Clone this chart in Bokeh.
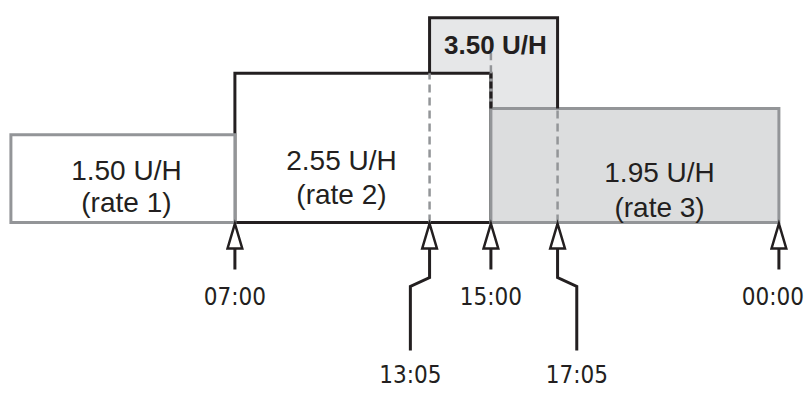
from bokeh.plotting import figure
from bokeh.models import Range1d
from bokeh.core.properties import value
from bokeh.embed import file_html
from bokeh.resources import INLINE

# ---- data ----
rate_start = [0.0, 7.0, 15.0]          # hours
rate_end = [7.0, 15.0, 24.0]
rate_values = [1.50, 2.55, 1.95]       # U/H
rate_names = ["rate 1", "rate 2", "rate 3"]
temp_label_start = "13:05"
temp_label_end = "17:05"
temp_value = 3.50
tick_labels = ["07:00", "13:05", "15:00", "17:05", "00:00"]


def hours(lbl, end_of_day=False):
    h, m = lbl.split(":")
    v = int(h) + int(m) / 60.0
    if end_of_day and v == 0:
        v = 24.0
    return v


temp_start = hours(temp_label_start)
temp_end = hours(temp_label_end)
tick_times = [hours(t, end_of_day=True) for t in tick_labels]


def rate_at(t):
    for s, e, v in zip(rate_start, rate_end, rate_values):
        if s <= t < e:
            return v
    return rate_values[-1]


# ---- style ----
BLACK = "#231f20"
GREY = "#939598"
TEMP_FILL = "#e6e7e8"
R3_FILL = "#dcddde"
LW = 3
TIME_FONT = value("DejaVu Sans Condensed")
TIME_SIZE = "24px"

p = figure(width=805, height=393, output_backend="svg", toolbar_location=None,
           x_range=Range1d(-0.325, 24.831), y_range=Range1d(-2.923, 3.795),
           x_axis_location=None, y_axis_location=None, min_border=0)
p.grid.visible = False
p.outline_line_color = None
p.background_fill_color = "white"
p.border_fill_color = "white"

# temporary-rate fill
p.quad(left=[temp_start], right=[temp_end], bottom=[0], top=[temp_value],
       fill_color=TEMP_FILL, line_color=None)

# rate 2 (black outline)
p.quad(left=[rate_start[1]], right=[rate_end[1]], bottom=[0], top=[rate_values[1]],
       fill_color="white", line_color=BLACK, line_width=LW, line_join="miter")
# rate 3 (grey fill)
p.quad(left=[rate_start[2]], right=[rate_end[2]], bottom=[0], top=[rate_values[2]],
       fill_color=R3_FILL, line_color=GREY, line_width=LW, line_join="miter")
# rate 1
p.quad(left=[rate_start[0]], right=[rate_end[0]], bottom=[0], top=[rate_values[0]],
       fill_color="white", line_color=GREY, line_width=LW, line_join="miter")

# rate 2 right edge above rate 3
p.line([rate_end[1], rate_end[1]], [rate_values[2], rate_values[1]],
       line_color=GREY, line_width=LW)
p.line([rate_end[1], rate_end[1]], [rate_values[2], rate_values[1]],
       line_color=BLACK, line_width=LW, line_dash="7 3")

# temp rate outline
p.line([temp_start, temp_start, temp_end, temp_end],
       [rate_at(temp_start), temp_value, temp_value, rate_at(temp_end)],
       line_color=BLACK, line_width=LW, line_join="miter")

# dashed guides
DASH = "8 5"
p.line([temp_start, temp_start], [0, rate_at(temp_start)], line_color=GREY,
       line_width=2.5, line_dash=DASH)
p.line([temp_end, temp_end], [0, rate_at(temp_end)], line_color=GREY,
       line_width=2.5, line_dash=DASH)
p.line([rate_end[1], rate_end[1]], [rate_values[1], 2.9], line_color=GREY,
       line_width=2.5, line_dash=DASH)

# arrows
TIP, BASE, SHORT_END = -0.02, -0.444, -0.803
JOG_A, JOG_B, LONG_END = -0.94, -1.094, -2.19
HW = 0.23
JOG = 0.6
for i, (t, lbl) in enumerate(zip(tick_times, tick_labels)):
    p.patch([t, t - HW, t + HW], [TIP, BASE, BASE], fill_color="white",
            line_color=BLACK, line_width=2.5, line_join="miter")
    xo = -6 if i == len(tick_labels) - 1 else 0
    if lbl in (temp_label_start, temp_label_end):
        d = -JOG if lbl == temp_label_start else JOG
        p.line([t, t, t + d, t + d], [BASE, JOG_A, JOG_B, LONG_END],
               line_color=BLACK, line_width=3, line_join="miter")
        p.text([t + d], [-2.615], text=[lbl], text_align="center",
               text_baseline="alphabetic", text_font=TIME_FONT,
               text_font_size=TIME_SIZE, text_color=BLACK)
    else:
        p.line([t, t], [BASE, SHORT_END], line_color=BLACK, line_width=3)
        p.text([t], [-1.265], text=[lbl], text_align="center", x_offset=xo,
               text_baseline="alphabetic", text_font=TIME_FONT,
               text_font_size=TIME_SIZE, text_color=BLACK)

# rate labels
lab_x = [3.61, 10.33, 20.27]
lab_y1 = [0.889, 1.060, 0.855]
lab_y2 = [0.342, 0.479, 0.256]
p.text(lab_x, lab_y1, text=[f"{v:.2f} U/H" for v in rate_values], text_align="center",
       text_baseline="alphabetic", text_font=value("Liberation Sans"),
       text_font_size="28px", text_color=BLACK)
p.text(lab_x, lab_y2, text=[f"({n})" for n in rate_names], text_align="center",
       text_baseline="alphabetic", text_font=value("Liberation Sans"),
       text_font_size="28px", text_color=BLACK)
p.text([15.14], [3.026], text=[f"{temp_value:.2f} U/H"], text_align="center",
       text_baseline="alphabetic", text_font=value("Liberation Sans"),
       text_font_size="26px", text_font_style="bold", text_color=BLACK)

open("out.html", "w").write(file_html(p, INLINE))
